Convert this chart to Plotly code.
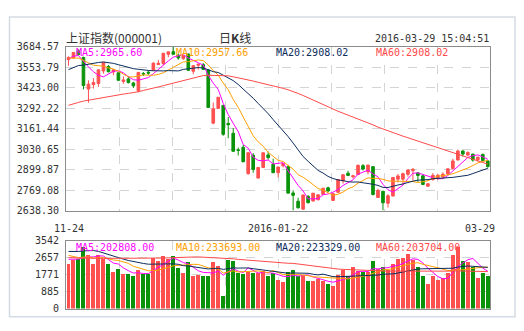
import plotly.graph_objects as go
import pandas as pd

# ---------------- data ----------------
dates = ["11-24", "11-25", "11-26", "11-27", "11-30",
         "12-01", "12-02", "12-03", "12-04", "12-07", "12-08", "12-09", "12-10", "12-11",
         "12-14", "12-15", "12-16", "12-17", "12-18", "12-21", "12-22", "12-23", "12-24",
         "12-25", "12-28", "12-29", "12-30", "12-31",
         "01-04", "01-05", "01-06", "01-07", "01-08", "01-11", "01-12", "01-13", "01-14",
         "01-15", "01-18", "01-19", "01-20", "01-21", "01-22", "01-25", "01-26", "01-27",
         "01-28", "01-29",
         "02-01", "02-02", "02-03", "02-04", "02-05", "02-15", "02-16", "02-17", "02-18",
         "02-19", "02-22", "02-23", "02-24", "02-25", "02-26", "02-29",
         "03-01", "03-02", "03-03", "03-04", "03-07", "03-08", "03-09", "03-10", "03-11",
         "03-14", "03-15", "03-16", "03-17", "03-18", "03-21", "03-22", "03-23", "03-24",
         "03-25", "03-28", "03-29"]

opens = [3602, 3614, 3659, 3616, 3414, 3443, 3450, 3530, 3558, 3524,
         3518, 3462, 3479, 3453, 3403, 3513, 3522, 3534, 3570, 3577,
         3636, 3653, 3631, 3608, 3638, 3528, 3566, 3570, 3536.59, 3196.65,
         3291, 3309.66, 3194.63, 3131.85, 3026, 3042, 2874, 2992, 2846, 2913,
         2994, 2934, 2880, 2924, 2918, 2751, 2698, 2647, 2730, 2699,
         2707, 2742, 2784, 2703, 2755, 2828, 2877, 2854, 2868, 2925,
         2886, 2919, 2722, 2762, 2685, 2731, 2839, 2839, 2870, 2893,
         2879, 2860, 2794, 2836, 2848, 2854, 2873, 2907, 2961, 3019,
         2993, 2999, 2963, 2997, 2955]
highs = [3623, 3648, 3668, 3621, 3470, 3483, 3538, 3585, 3568, 3543,
         3518, 3495, 3495, 3460, 3521, 3523, 3530, 3583, 3600, 3643,
         3652, 3684.57, 3641, 3632, 3641, 3565, 3573, 3580, 3538.69, 3328.14,
         3362, 3309.66, 3235.45, 3166, 3041, 3058, 3011, 3005, 2914, 3008,
         3016, 2970, 2919, 2939, 2930, 2768, 2721, 2741, 2736, 2750,
         2740, 2783, 2791, 2750, 2840, 2868, 2892, 2867, 2933, 2935,
         2931, 2919, 2778, 2762, 2743, 2851, 2872, 2880, 2903, 2910,
         2884, 2867, 2814, 2878, 2870, 2883, 2909, 2970, 3028, 3022,
         3016, 3000, 2981, 3002, 2961]
lows = [3563, 3606, 3629, 3412, 3327, 3417, 3428, 3513, 3520, 3503,
        3466, 3448, 3450, 3421, 3393, 3497, 3505, 3534, 3568, 3565,
        3617, 3632, 3601, 3601, 3529, 3509, 3538, 3538, 3295.74, 3189.60,
        3288, 3115.89, 3100, 3016.70, 2990, 2949, 2867.55, 2880, 2844.70, 2910,
        2964, 2877, 2851, 2914, 2749, 2638.30, 2653, 2647, 2684, 2699,
        2706, 2742, 2758, 2700, 2755, 2810, 2858, 2843, 2868, 2894,
        2869, 2735, 2720, 2638.96, 2658, 2731, 2818, 2802, 2855, 2829,
        2822, 2802, 2791, 2830, 2836, 2844, 2863, 2900, 2960, 2984,
        2985, 2951, 2951, 2956, 2912]
closes = [3616.11, 3647.93, 3635.55, 3436.30, 3445.40, 3456.31, 3536.91, 3584.82, 3524.99, 3536.93,
          3470.07, 3472.44, 3455.50, 3434.58, 3520.67, 3510.35, 3516.19, 3580.00, 3578.96, 3642.47,
          3651.77, 3636.09, 3612.49, 3627.91, 3533.78, 3563.74, 3572.88, 3539.18, 3296.26, 3287.71,
          3361.84, 3125.00, 3186.41, 3016.70, 3022.86, 2949.60, 3007.65, 2900.97, 2913.84, 3007.74,
          2976.69, 2880.48, 2916.56, 2938.51, 2749.79, 2735.56, 2655.66, 2737.60, 2688.85, 2749.57,
          2739.25, 2781.02, 2763.49, 2746.20, 2836.57, 2867.34, 2862.89, 2860.02, 2927.18, 2903.33,
          2928.90, 2741.25, 2767.21, 2687.98, 2733.17, 2849.68, 2859.76, 2874.15, 2897.34, 2901.39,
          2862.56, 2804.73, 2810.31, 2863.66, 2864.37, 2870.43, 2904.83, 2955.15, 3018.80, 2999.36,
          3009.96, 2960.97, 2979.43, 2957.82, 2919.83]
volumes = [2311, 2530, 2614, 3238, 2834, 2311, 2800, 2581, 2311, 1906,
           2058, 1805, 1838, 1687, 2024, 1805, 1805, 2648, 2513, 2749,
           2581, 2749, 2108, 1855, 2446, 1720, 1754, 1687, 1704, 2463,
           2210, 675, 2564, 2513, 1855, 1805, 1940, 1855, 1855, 1990,
           1720, 1855, 1484, 1383, 1940, 2007, 1720, 1687, 1434, 1434,
           1552, 1434, 1299, 1181, 1771, 2024, 1720, 2159, 1973, 1906,
           1940, 2496, 2058, 2193, 2024, 2361, 2614, 2665, 2867, 2530,
           2193, 1687, 1299, 1687, 1518, 1602, 1855, 2783, 3205, 2496,
           2446, 2193, 1602, 1855, 1687]

# sessions before 11-24 (warm-up for the moving averages)
pre_closes = [3209.91, 2964.97, 2927.29, 3083.59, 3232.35, 3205.99, 3166.62, 3160.17, 3080.42, 3170.45,
              3243.09, 3197.89, 3200.23, 3114.80, 3005.17, 3152.26, 3086.06, 3097.92, 3156.54, 3185.62,
              3115.89, 3142.69, 3092.35, 3100.76, 3038.14, 3052.78, 3143.36, 3183.15, 3287.66, 3293.23,
              3262.44, 3338.07, 3391.35, 3386.70, 3425.33, 3320.68, 3368.74, 3412.43, 3429.58, 3434.34,
              3375.20, 3387.32, 3382.56, 3325.08, 3316.70, 3459.64, 3522.82, 3590.03, 3646.88, 3640.49,
              3650.25, 3632.90, 3580.84, 3606.96, 3604.80, 3568.47, 3617.06, 3630.50, 3610.31]
pre_volumes = [3700, 3300, 3300, 3000, 3100, 2600, 2400, 2300, 1800, 1900,
               2400, 2100, 1800, 2200, 2000, 2100, 2000, 1700, 1800, 2000,
               1800, 1600, 1700, 1500, 1600, 1500, 2300, 2300, 3100, 2800,
               2800, 3000, 3500, 3600, 3200, 3800, 2900, 3300, 3400, 3200,
               2700, 2500, 2600, 2500, 2300, 3700, 4300, 3900, 4100, 3400,
               3100, 3200, 3000, 2700, 2950, 2600, 2500, 2900, 2600]

ma_periods = [5, 10, 20, 60]
price_legend = ["MA5:2965.60", "MA10:2957.66", "MA20:2908.02", "MA60:2908.02"]
vol_legend = ["MA5:202808.00", "MA10:233693.00", "MA20:223329.00", "MA60:203704.00"]
price_ticks = [2638.30, 2769.08, 2899.87, 3030.65, 3161.44, 3292.22, 3423.00, 3553.79, 3684.57]
vol_ticks = [0, 885.5, 1771, 2656.5, 3542]
vol_tick_text = ["0", "885", "1771", "2657", "3542"]
axis_labels = [("11-24", "11-24"), ("01-22", "2016-01-22"), ("03-29", "03-29")]
title_text = "上证指数(000001)"
period_text = "日<b>K</b>线"
time_text = "2016-03-29 15:04:51"

# ---------------- style ----------------
W, H = 524, 331
L, R = 66, 490.3
MAIN_T, MAIN_B = 43, 212
VOL_T, VOL_B = 243.3, 313
RED = "#ff5050"
GREEN = "#0a930a"
MA_COLORS = ["#ff00ff", "#ffa000", "#0c2c5c", "#ff4a4a"]
GRID = "#d4d4d4"
FRAME = "#8c8c8c"
TXT = "#333333"
MONO = "DejaVu Sans Mono, Liberation Mono, monospace"
CJK = "Noto Sans CJK SC, sans-serif"


def px(x):
    return x / W


def py(y):
    return 1 - y / H


n = len(dates)
xs = list(range(n))

cs = pd.Series(pre_closes + closes)
vs = pd.Series(pre_volumes + volumes)
off = len(pre_closes)

fig = go.Figure()

fig.add_trace(go.Candlestick(
    x=xs, open=opens, high=highs, low=lows, close=closes,
    increasing=dict(line=dict(color=RED, width=1), fillcolor=RED),
    decreasing=dict(line=dict(color=GREEN, width=1), fillcolor=GREEN),
    whiskerwidth=0, showlegend=False, hoverinfo="skip",
    xaxis="x", yaxis="y"))

for p, col in zip(ma_periods, MA_COLORS):
    fig.add_trace(go.Scatter(
        x=xs, y=cs.rolling(p).mean().iloc[off:].tolist(), mode="lines",
        line=dict(color=col, width=1), showlegend=False, hoverinfo="skip",
        xaxis="x", yaxis="y"))

bar_colors = [RED if c >= o else GREEN for o, c in zip(opens, closes)]
fig.add_trace(go.Bar(
    x=xs, y=volumes, marker=dict(color=bar_colors, line=dict(width=0)),
    width=0.8, showlegend=False, hoverinfo="skip", xaxis="x2", yaxis="y2"))

for p, col in zip(ma_periods, MA_COLORS):
    fig.add_trace(go.Scatter(
        x=xs, y=vs.rolling(p).mean().iloc[off:].tolist(), mode="lines",
        line=dict(color=col, width=1), showlegend=False, hoverinfo="skip",
        xaxis="x2", yaxis="y2"))

xcommon = dict(
    domain=[px(L), px(R)], range=[-0.5, n - 0.5],
    showgrid=True, gridcolor=GRID, griddash="dash", gridwidth=1,
    tick0=-0.5, dtick=n / 8, showticklabels=False, ticks="",
    zeroline=False, showline=True, linecolor=FRAME, linewidth=1, mirror=True,
    fixedrange=True)
ycommon = dict(
    showgrid=True, gridcolor=GRID, griddash="dash", gridwidth=1,
    ticks="", zeroline=False, showline=True, linecolor=FRAME, linewidth=1, mirror=True,
    tickfont=dict(family=MONO, size=10, color=TXT), ticklabelstandoff=4,
    fixedrange=True)

annotations = []
for i, (t, col) in enumerate(zip(price_legend, MA_COLORS)):
    annotations.append(dict(xref="paper", yref="paper", x=px(75 + 100 * i), y=py(49),
                            text=t, showarrow=False, xanchor="left", yanchor="middle",
                            font=dict(family=MONO, size=10, color=col), borderpad=0))
for i, (t, col) in enumerate(zip(vol_legend, MA_COLORS)):
    annotations.append(dict(xref="paper", yref="paper", x=px(75 + 100 * i), y=py(250),
                            text=t, showarrow=False, xanchor="left", yanchor="middle",
                            font=dict(family=MONO, size=10, color=col), borderpad=0))
label_shift = [0, 0, -8]
for (d, t), sh in zip(axis_labels, label_shift):
    annotations.append(dict(xref="x", yref="paper", x=dates.index(d), y=py(230),
                            text=t, showarrow=False, xanchor="center", yanchor="middle",
                            xshift=sh, font=dict(family=MONO, size=10, color=TXT), borderpad=0))
annotations.append(dict(xref="paper", yref="paper", x=px(65), y=py(34), text=title_text,
                        showarrow=False, xanchor="left", yanchor="middle",
                        font=dict(family=CJK, size=12, color=TXT), borderpad=0))
annotations.append(dict(xref="paper", yref="paper", x=px(235), y=py(34), text=period_text,
                        showarrow=False, xanchor="center", yanchor="middle",
                        font=dict(family=CJK, size=12, color=TXT), borderpad=0))
annotations.append(dict(xref="paper", yref="paper", x=px(490), y=py(34.5), text=time_text,
                        showarrow=False, xanchor="right", yanchor="middle",
                        font=dict(family=MONO, size=10, color=TXT), borderpad=0))

fig.update_layout(
    width=W, height=H, margin=dict(l=0, r=0, t=0, b=0),
    paper_bgcolor="white", plot_bgcolor="white",
    showlegend=False, boxgap=0.25, bargap=0,
    xaxis=dict(xcommon, anchor="y", rangeslider=dict(visible=False)),
    xaxis2=dict(xcommon, anchor="y2", matches="x"),
    yaxis=dict(ycommon, domain=[py(MAIN_B), py(MAIN_T)], anchor="x",
               range=[price_ticks[0], price_ticks[-1]], tickvals=price_ticks,
               ticktext=["%.2f" % v for v in price_ticks]),
    yaxis2=dict(ycommon, domain=[py(VOL_B), py(VOL_T)], anchor="x2",
                range=[vol_ticks[0], vol_ticks[-1]], tickvals=vol_ticks,
                ticktext=vol_tick_text),
    annotations=annotations,
    shapes=[dict(type="rect", xref="paper", yref="paper",
                 x0=px(9.5), x1=px(515), y0=py(321.5), y1=py(12.5),
                 line=dict(color="#d3dbe4", width=1.5), layer="below")],
)

fig.write_html("out.html")
